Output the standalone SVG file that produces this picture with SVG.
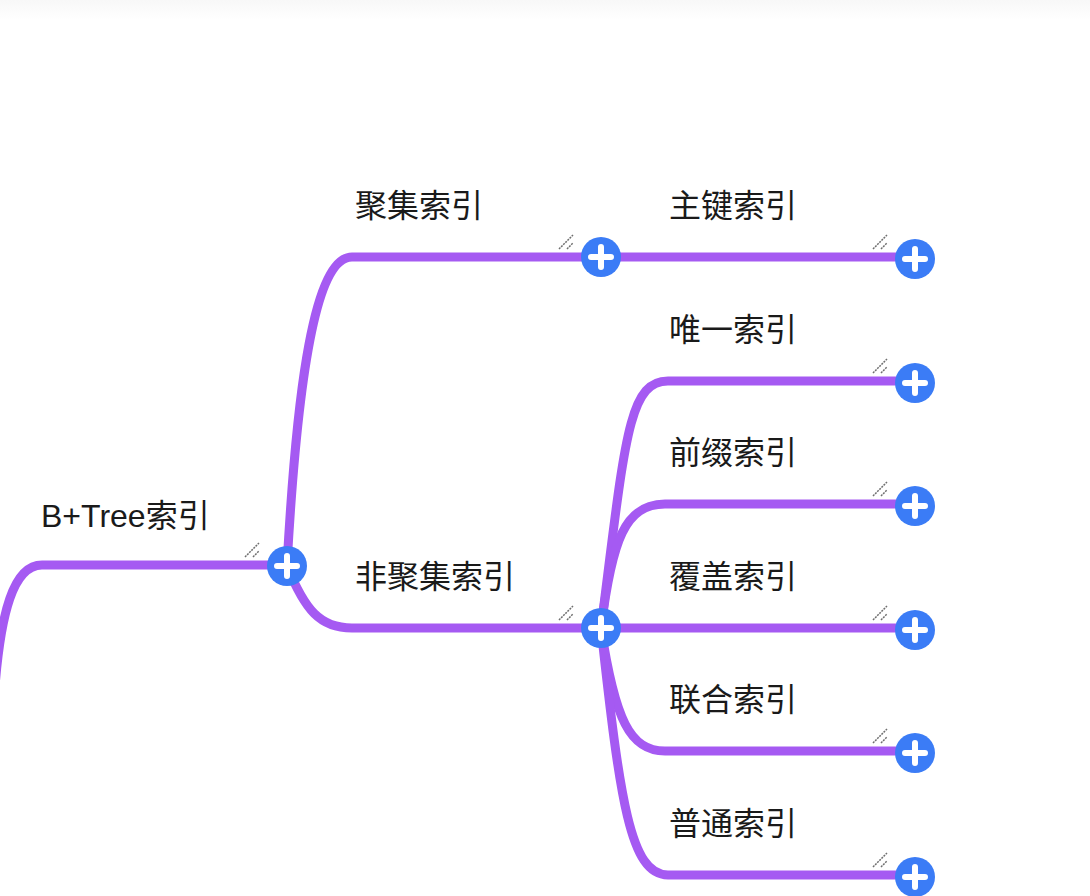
<svg xmlns="http://www.w3.org/2000/svg" width="1090" height="896" viewBox="0 0 1090 896">
<defs>
<linearGradient id="topfade" x1="0" y1="0" x2="0" y2="1">
<stop offset="0" stop-color="#f8f8f8"/>
<stop offset="1" stop-color="#ffffff"/>
</linearGradient>
<g id="hash">
<line x1="-42" y1="-8" x2="-28" y2="-22"/>
<line x1="-34" y1="-8" x2="-28" y2="-14"/>
</g>
<g id="plus">
<circle r="20" class="btn"/>
<path d="M-10,0 H10 M0,-10 V10" class="pl"/>
</g>
</defs>
<style>
.edge{fill:none;stroke:#a55af2;stroke-width:9;stroke-linecap:round}
.btn{fill:#3b7cf6}
.pl{stroke:#ffffff;stroke-width:6;stroke-linecap:round;fill:none}
.h{stroke:#6f6f6f;stroke-width:1.5;stroke-dasharray:2 1}
.lbl{font-family:"Liberation Sans","Noto Sans CJK SC",sans-serif;font-size:32px;fill:#1a1a1a}
</style>
<rect width="1090" height="896" fill="#ffffff"/>
<rect width="1090" height="20" fill="url(#topfade)"/>
<g id="connectors">
<path class="edge" d="M-7,900 L-6,700 C0,610 14,565 42,565 L287,565"/>
<path class="edge" d="M287,566 C295,420 310,257 352,257 L915,257"/>
<path class="edge" d="M287,566 C305,610 320,628 352,628 L915,628"/>
<path class="edge" d="M601,628 C625,440 628,381 668,381 L915,381"/>
<path class="edge" d="M601,628 C612,540 625,504 665,504 L915,504"/>
<path class="edge" d="M601,628 C615,720 630,751 665,751 L915,751"/>
<path class="edge" d="M601,628 C620,800 630,875 668,875 L915,875"/>
</g>
<g id="n-btree">
<text class="lbl" x="41" y="527">B+Tree索引</text>
<use href="#hash" class="h" x="287" y="565"/>
<use href="#plus" x="287" y="566"/>
</g>
<g id="n-clustered">
<text class="lbl" x="355" y="217">聚集索引</text>
<use href="#hash" class="h" x="601" y="257"/>
<use href="#plus" x="601" y="257"/>
</g>
<g id="n-nonclustered">
<text class="lbl" x="355" y="588">非聚集索引</text>
<use href="#hash" class="h" x="601" y="628"/>
<use href="#plus" x="601" y="628"/>
</g>
<g id="n-primary">
<text class="lbl" x="669" y="217">主键索引</text>
<use href="#hash" class="h" x="915" y="257"/>
<use href="#plus" x="915" y="259"/>
</g>
<g id="n-unique">
<text class="lbl" x="669" y="341">唯一索引</text>
<use href="#hash" class="h" x="915" y="381"/>
<use href="#plus" x="915" y="383"/>
</g>
<g id="n-prefix">
<text class="lbl" x="669" y="464">前缀索引</text>
<use href="#hash" class="h" x="915" y="504"/>
<use href="#plus" x="915" y="506"/>
</g>
<g id="n-covering">
<text class="lbl" x="669" y="588">覆盖索引</text>
<use href="#hash" class="h" x="915" y="628"/>
<use href="#plus" x="915" y="630"/>
</g>
<g id="n-composite">
<text class="lbl" x="669" y="711">联合索引</text>
<use href="#hash" class="h" x="915" y="751"/>
<use href="#plus" x="915" y="753"/>
</g>
<g id="n-normal">
<text class="lbl" x="669" y="835">普通索引</text>
<use href="#hash" class="h" x="915" y="875"/>
<use href="#plus" x="915" y="877"/>
</g>
</svg>
